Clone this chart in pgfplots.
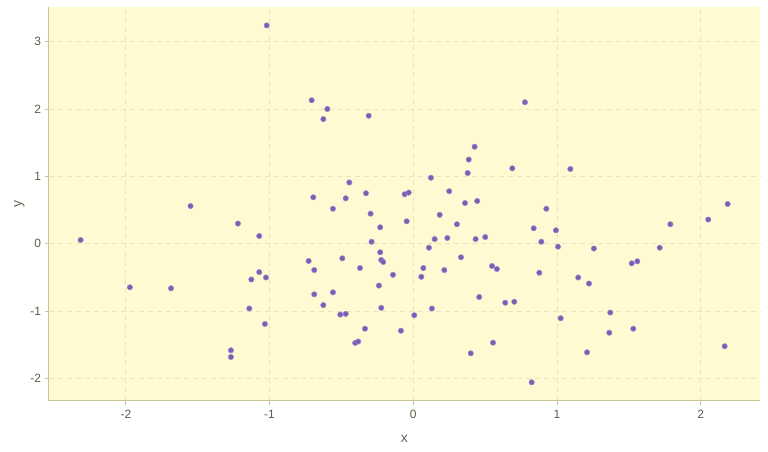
\documentclass[border=0pt]{standalone}
\usepackage{pgfplots}
\pgfplotsset{compat=1.18}
\usepackage{fontspec}
\setmainfont{Liberation Sans}
\definecolor{bgc}{HTML}{FFFAD2}
\definecolor{axc}{HTML}{C9C39A}
\definecolor{gridc}{HTML}{ECE4BC}
\definecolor{ptc}{HTML}{7B5FB3}
\definecolor{ptd}{HTML}{9C88CC}
\definecolor{tickc}{HTML}{5E5A48}
\definecolor{labc}{HTML}{6A6656}
\begin{document}
\begin{tikzpicture}
\begin{axis}[
  scale only axis,
  width=711.3pt, height=394pt,
  xmin=-2.537, xmax=2.413, ymin=-2.328, ymax=3.518,
  xtick={-2,-1,0,1,2}, ytick={-2,-1,0,1,2,3},
  axis x line*=bottom, axis y line*=left,
  axis line style={draw=axc, line width=1.2pt, -},
  axis background/.style={fill=bgc},
  grid=major,
  major grid style={draw=gridc, dash pattern=on 5pt off 4pt, line width=0.8pt},
  tick style={draw=axc, line width=0.8pt},
  tick align=outside, major tick length=4pt,
  ticklabel style={font=\fontsize{12}{14}\selectfont, text=tickc},
  xticklabel style={yshift=-2pt},
  /pgf/number format/assume math mode=true,
  xlabel={x}, ylabel={y},
  label style={font=\fontsize{14}{16}\selectfont, text=labc},
  xlabel style={yshift=-10pt},
  ylabel style={yshift=-1pt},
]
\addplot[only marks, mark=*, mark size=2.7pt, mark options={fill=ptc, draw=ptd, line width=0.5pt}] coordinates {
(-1.02,3.24) (-1.55,0.56) (-0.707,2.13) (-0.598,2.00) (-0.626,1.85)
(-0.31,1.90) (0.777,2.10) (0.427,1.44) (0.386,1.25) (0.379,1.05)
(0.689,1.12) (0.123,0.98) (-0.445,0.91) (-0.696,0.69) (-0.47,0.675)
(-0.329,0.75) (-0.06,0.735) (-0.032,0.76) (0.25,0.78) (0.36,0.605)
(0.445,0.635) (-0.559,0.52) (1.093,1.11) (0.926,0.52) (2.188,0.59)
(-2.315,0.056) (-1.22,0.30) (-1.072,0.116) (-1.972,-0.645) (-1.686,-0.66)
(-1.072,-0.42) (-1.127,-0.53) (-1.025,-0.50) (-1.141,-0.96) (-1.032,-1.19)
(-1.269,-1.58) (-1.269,-1.68) (-0.297,0.447) (-0.046,0.334) (-0.23,0.245)
(-0.29,0.03) (-0.23,-0.126) (-0.223,-0.24) (-0.209,-0.27) (-0.494,-0.215)
(-0.728,-0.255) (0.184,0.43) (0.304,0.29) (0.149,0.07) (0.237,0.086)
(0.434,0.07) (0.501,0.10) (0.109,-0.058) (0.332,-0.20) (0.548,-0.33)
(0.582,-0.374) (0.07,-0.36) (0.056,-0.49) (0.216,-0.39) (-0.689,-0.39)
(-0.371,-0.36) (-0.141,-0.46) (-0.239,-0.62) (-0.689,-0.75) (-0.559,-0.72)
(-0.626,-0.91) (-0.223,-0.95) (-0.508,-1.05) (-0.47,-1.04) (0.007,-1.06)
(0.13,-0.96) (-0.336,-1.26) (-0.086,-1.29) (-0.404,-1.47) (-0.383,-1.45)
(0.459,-0.79) (0.64,-0.874) (0.703,-0.86) (0.40,-1.625) (0.555,-1.467)
(0.838,0.23) (0.993,0.20) (0.891,0.03) (1.007,-0.043) (1.257,-0.07)
(1.789,0.29) (2.053,0.36) (1.715,-0.058) (1.52,-0.29) (1.559,-0.26)
(0.877,-0.43) (1.148,-0.50) (1.223,-0.59) (1.371,-1.02) (1.026,-1.105)
(1.364,-1.32) (1.531,-1.26) (1.209,-1.61) (2.167,-1.52) (0.824,-2.055)
};
\end{axis}
\useasboundingbox ([shift={(-48.7pt,-51.3pt)}]current axis.south west) rectangle ([shift={(8pt,6.7pt)}]current axis.north east);
\end{tikzpicture}
\end{document}
